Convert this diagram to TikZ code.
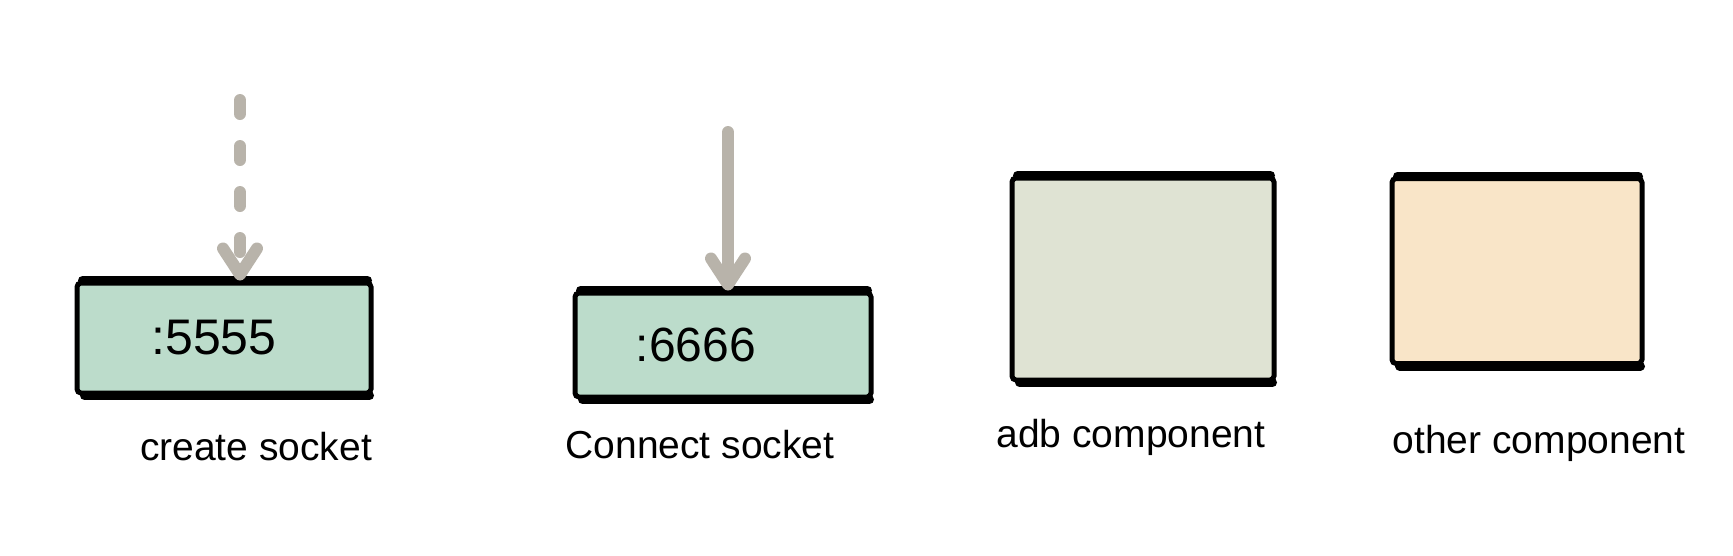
\documentclass[tikz,border=0pt]{standalone}
\usepackage{fontspec}
\setmainfont{Liberation Sans}
\usetikzlibrary{positioning,arrows.meta}
\definecolor{socketgreen}{HTML}{BCDCCB}
\definecolor{adbgray}{HTML}{DFE3D3}
\definecolor{otherpeach}{HTML}{F9E5C8}
\definecolor{arrowgray}{HTML}{B8B3AA}

\begin{document}
\begin{tikzpicture}[
  x=1pt, y=-1pt,
  every node/.style={font=\fontsize{38}{44}\selectfont},
  portbox/.style={draw=black, line width=5pt, rounded corners=4pt,
                  fill=socketgreen, inner sep=0pt},
  compbox/.style={draw=black, line width=5pt, rounded corners=4pt, inner sep=0pt},
  caption/.style={font=\fontsize{39}{44}\selectfont},
  edge/.style={line width=9pt, line cap=round},
  flow/.style={line width=12pt, draw=arrowgray, line cap=round,
               -{Straight Barb[length=26pt, width=34pt, line width=12pt, round]}}
]
  \useasboundingbox (0,0) rectangle (1733,555);

  % sockets
  \node[portbox, minimum width=294pt, minimum height=110pt] (sock1) at (224,338) {};
  \node[portbox, minimum width=296pt, minimum height=104pt] (sock2) at (723,345) {};
  \node[xshift=-10pt, font=\fontsize{50}{56}\selectfont] (port1) at (sock1) {:5555};
  \node[xshift=-27pt, font=\fontsize{48}{56}\selectfont] (port2) at (sock2) {:6666};

  % components
  \node[compbox, fill=adbgray, minimum width=262pt, minimum height=202pt] (adb) at (1143,279) {};
  \node[compbox, fill=otherpeach, minimum width=250pt, minimum height=185pt] (other) at (1517,271) {};

  % heavy top and bottom strokes
  \foreach \b in {sock1,sock2,adb,other}{
    \draw[edge] ([xshift=8pt]\b.north west) -- ([xshift=-6pt]\b.north east);
    \draw[edge] ([xshift=10pt]\b.south west) -- ([xshift=-4pt]\b.south east);
  }

  % captions
  \node[caption, below=33pt of sock1, xshift=32pt]  (sock1lbl) {create socket};
  \node[caption, below=27pt of sock2, xshift=-23pt] (sock2lbl) {Connect socket};
  \node[caption, below=33pt of adb, xshift=-12pt]   (adblbl)   {adb component};
  \node[caption, below=56pt of other, xshift=22pt]  (otherlbl) {other component};

  % incoming connections
  \coordinate (in1) at (240,100);
  \coordinate (in2) at (728,132);
  \draw[flow, dash pattern=on 14pt off 32pt] (in1) -- (in1 |- sock1.north);
  \draw[flow] (in2) -- (in2 |- sock2.north);
\end{tikzpicture}
\end{document}
